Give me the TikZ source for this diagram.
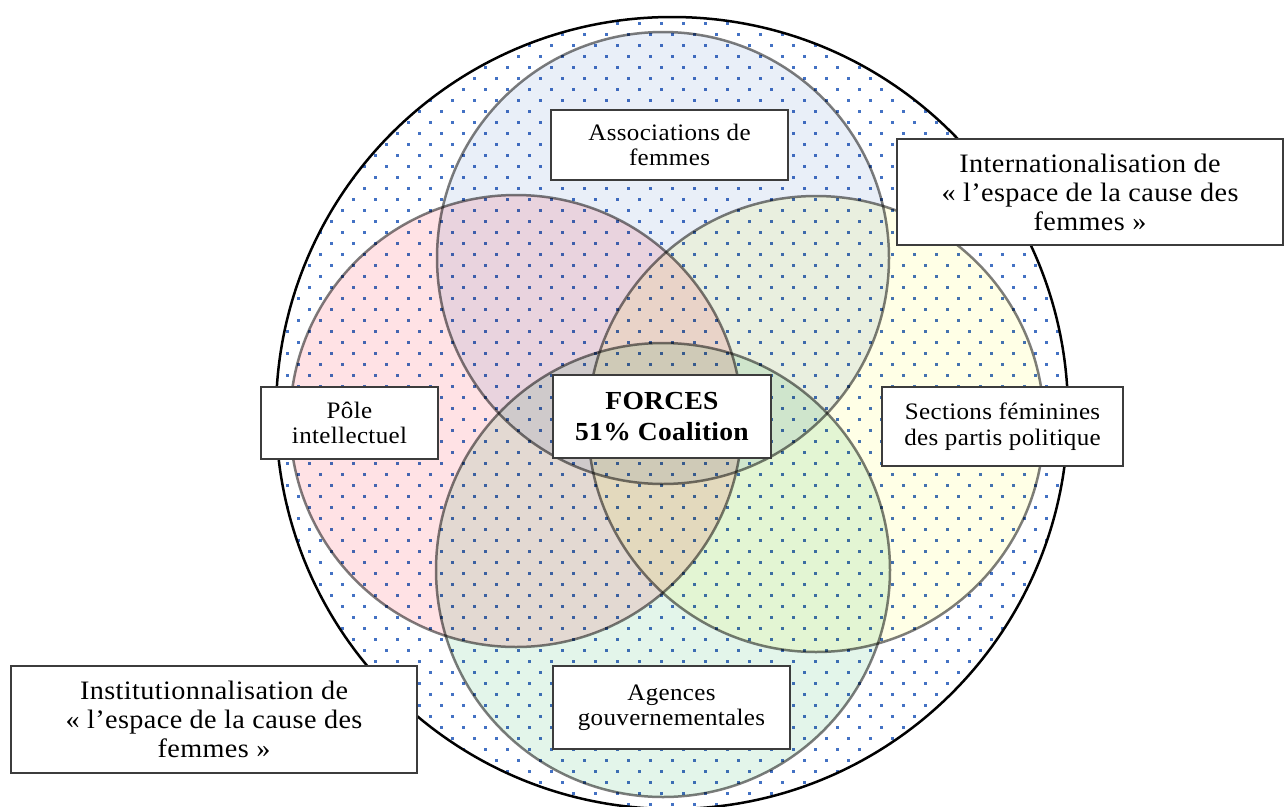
\documentclass[tikz,border=0pt]{standalone}
\usepackage{fontspec}
\setmainfont{Liberation Serif}
\newfontfamily\lsA[FakeStretch=1.06,LetterSpace=1.5]{Liberation Serif}
\newfontfamily\lsB[FakeStretch=1.06,LetterSpace=1]{Liberation Serif}
\definecolor{cblue}{RGB}{233,239,248}
\definecolor{cpink}{RGB}{255,226,229}
\definecolor{cyel}{RGB}{255,255,230}
\definecolor{cgreen}{RGB}{227,245,234}
\definecolor{cline}{RGB}{125,125,125}
\definecolor{cdot}{RGB}{68,114,196}
\definecolor{cbox}{RGB}{60,60,60}
\tikzset{
  lbl/.style={draw=cbox, line width=1.6pt, fill=white, align=center, inner sep=0pt,
    font=\lsA\fontsize{23.6}{25.5}\selectfont},
  biglbl/.style={lbl, font=\lsA\fontsize{26.6}{29}\selectfont},
  corelbl/.style={lbl, font=\lsB\bfseries\fontsize{26}{31}\selectfont},
  venn/.style={draw=cline, line width=2.5pt},
  dotc/.style={fill=cdot},
}
\begin{document}
\begin{tikzpicture}[x=1pt,y=-1pt]
\useasboundingbox (0,0) rectangle (1284,806);
% outer circle
\coordinate (O) at (672,413);
\fill[white] (O) circle[radius=396pt];
\begin{scope}
  \clip (O) circle[radius=396pt];
  \foreach \m in {-14,...,23}{
    \foreach \j in {-2,...,35}{
      \fill[dotc] ({308+22*\j},{308+22*\m}) rectangle ++(2.7,2.7);
      \fill[dotc] ({319+22*\j},{319+22*\m}) rectangle ++(2.7,2.7);
    }
  }
\end{scope}
% inner circles
\coordinate (cB) at (663,258);
\coordinate (cP) at (516,421);
\coordinate (cY) at (816,424);
\coordinate (cG) at (663,570);
\begin{scope}[blend mode=multiply]
  \path[venn, fill=cpink] (cP) circle[radius=226pt];
  \path[venn, fill=cblue] (cB) circle[radius=226pt];
  \path[venn, fill=cyel] (cY) circle[radius=228pt];
  \path[venn, fill=cgreen] (cG) circle[radius=227pt];
\end{scope}
\draw[black, line width=2.5pt] (O) circle[radius=396pt];
% labels
\node[lbl, minimum width=237pt, minimum height=70pt] (assoc) at (669.5,145) {Associations de\\femmes};
\node[biglbl, minimum width=386pt, minimum height=106pt] (inter) at (1090,192) {Internationalisation de\\«~l’espace de la cause des\\femmes~»};
\node[lbl, minimum width=241pt, minimum height=79pt] (sect) at (1002.5,426.5) {Sections féminines\\des partis politique};
\node[lbl, minimum width=177pt, minimum height=72pt] (pole) at (349.5,423) {Pôle\\intellectuel};
\node[corelbl, minimum width=218pt, minimum height=83pt] (forces) at (662,416.5) {FORCES\\51\% Coalition};
\node[lbl, minimum width=237pt, minimum height=83pt] (agences) at (671.5,707.5) {Agences\\gouvernementales};
\node[biglbl, minimum width=406pt, minimum height=107pt] (inst) at (214,719.5) {Institutionnalisation de\\«~l’espace de la cause des\\femmes~»};
\end{tikzpicture}
\end{document}
